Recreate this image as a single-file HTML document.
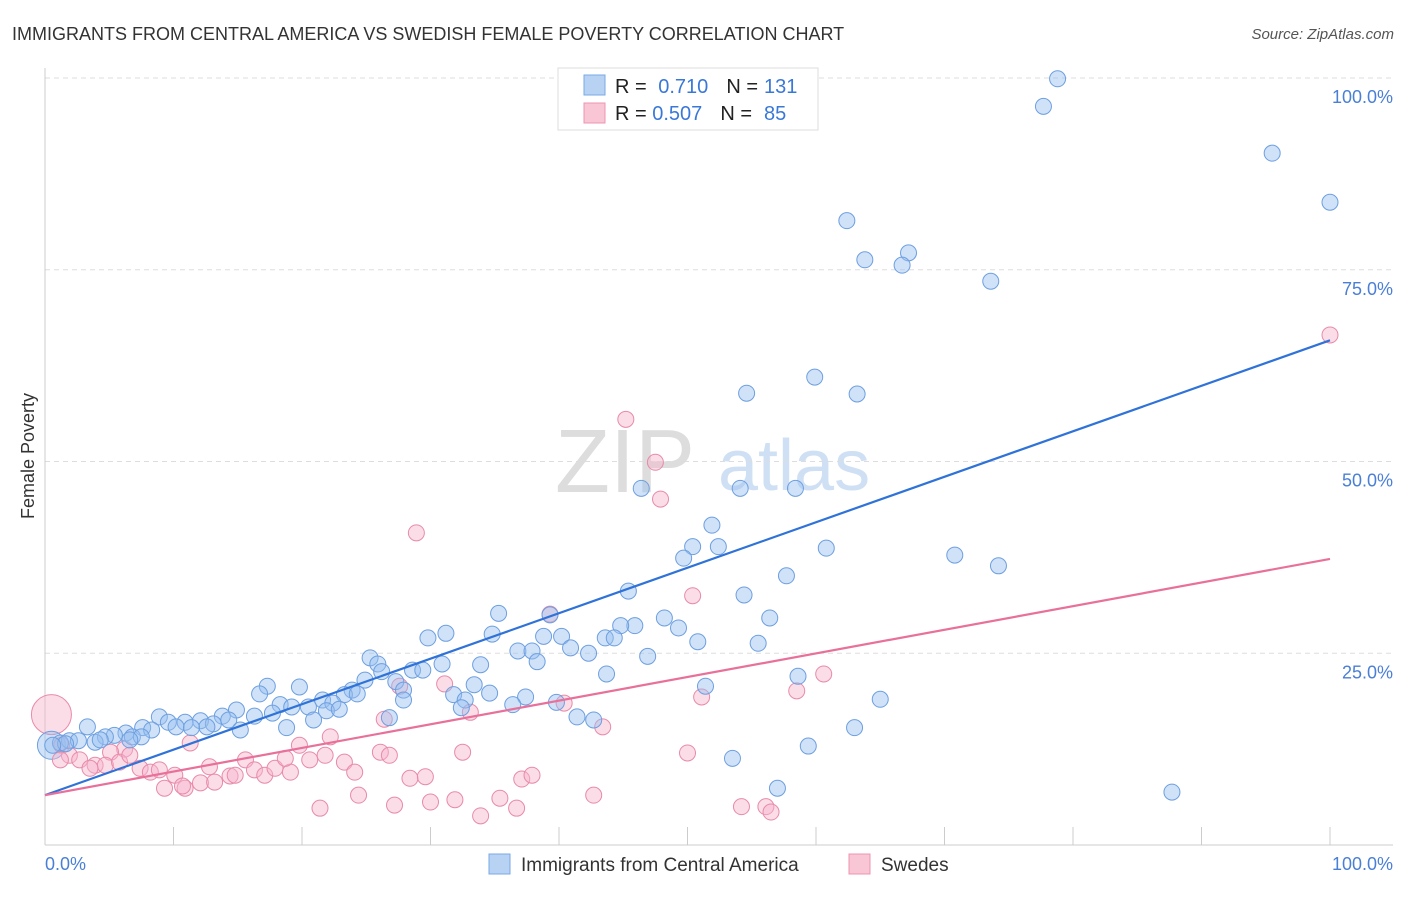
<!DOCTYPE html>
<html><head><meta charset="utf-8"><style>
body{margin:0;background:#fff;font-family:"Liberation Sans",sans-serif;}
svg text{font-family:"Liberation Sans",sans-serif;}
</style></head><body>
<svg id="c" width="1406" height="892" xmlns="http://www.w3.org/2000/svg">
<text x="12" y="40" font-size="18" fill="#333">IMMIGRANTS FROM CENTRAL AMERICA VS SWEDISH FEMALE POVERTY CORRELATION CHART</text>
<text x="1394" y="39" font-size="15" fill="#555" font-style="italic" text-anchor="end">Source: ZipAtlas.com</text>
<g>
<text x="555" y="492" font-size="90" fill="#ddd" font-family="Liberation Serif">ZIP</text>
<text x="718" y="490" font-size="72" fill="#cfe0f4">atlas</text>
</g>
<g id="grid"></g><g id="pts"></g><g id="lines"></g>
<text transform="translate(34,456) rotate(-90)" font-size="18" fill="#333" text-anchor="middle">Female Poverty</text>
<text x="45" y="870" font-size="18" fill="#4a7fd6">0.0%</text>
<text x="1393" y="870" font-size="18" fill="#4a7fd6" text-anchor="end">100.0%</text>
<g>
<rect x="558" y="68" width="260" height="62" fill="#fff" stroke="#ddd"/>
<rect x="584" y="75" width="21" height="20" fill="#b8d2f4" stroke="#7aa8e4"/>
<text x="615" y="93" font-size="20" fill="#222">R = <tspan fill="#3a78d8" dx="6">0.710</tspan><tspan dx="18" fill="#222">N =</tspan><tspan dx="6" fill="#3a78d8">131</tspan></text>
<rect x="584" y="103" width="21" height="20" fill="#f9c6d6" stroke="#ec94b0"/>
<text x="615" y="120" font-size="20" fill="#222">R = <tspan fill="#3a78d8">0.507</tspan><tspan dx="18" fill="#222">N =</tspan><tspan dx="12" fill="#3a78d8">85</tspan></text>
</g>
<g>
<rect x="489" y="854" width="21" height="20" fill="#b8d2f4" stroke="#7aa8e4"/>
<text x="521" y="871" font-size="19" fill="#333">Immigrants from Central America</text>
<rect x="849" y="854" width="21" height="20" fill="#f9c6d6" stroke="#ec94b0"/>
<text x="881" y="871" font-size="19" fill="#333">Swedes</text>
</g>
</svg>
<script>
const yTicks=[25,50,75,100];
const yTickLabels=["25.0%","50.0%","75.0%","100.0%"];
const xTicks=[0,10,20,30,40,50,60,70,80,90,100];
const blueX=[78.8,77.7,95.5,100,62.4,63.8,67.2,66.7,73.6,59.9,54.6,63.2,46.4,54.1,58.4,51.9,50.4,52.4,60.8,49.7,70.8,74.2,57.7,45.4,54.4,35.3,39.3,48.2,56.4,45.9,44.8,49.3,31.2,29.8,34.8,38.8,40.2,50.8,43.6,44.3,40.9,55.5,36.8,37.9,42.3,46.9,38.3,25.3,25.9,26.2,28.6,29.4,30.9,33.9,43.7,24.9,27.3,27.9,23.9,23.3,24.3,21.6,22.4,17.3,19.8,16.7,33.4,34.6,31.8,32.7,37.4,39.8,27.9,36.4,32.4,18.3,19.2,20.5,21.9,22.9,14.9,17.7,13.8,16.3,20.9,26.8,41.4,42.7,58.6,51.4,65.0,8.9,12.1,13.1,14.3,9.6,10.9,10.2,12.6,15.2,11.4,7.6,8.3,3.3,6.3,5.4,4.7,6.8,7.5,3.9,1.9,2.6,1.2,1.6,0.6,18.8,63.0,59.4,53.5,57.0,87.7,6.6,4.3];
const blueY=[99.9,96.3,90.2,83.8,81.4,76.3,77.2,75.6,73.5,61.0,58.9,58.8,46.5,46.5,46.5,41.7,38.9,38.9,38.7,37.4,37.8,36.4,35.1,33.1,32.6,30.2,30.0,29.6,29.6,28.6,28.6,28.3,27.6,27.0,27.5,27.2,27.2,26.5,27.0,27.0,25.7,26.3,25.3,25.3,25.0,24.6,23.9,24.4,23.6,22.6,22.8,22.8,23.6,23.5,22.3,21.5,21.3,20.2,20.2,19.6,19.7,18.9,18.5,20.7,20.6,19.7,20.9,19.8,19.6,18.9,19.3,18.6,18.9,18.3,17.9,18.3,18.0,18.0,17.5,17.7,17.6,17.2,16.8,16.8,16.3,16.6,16.7,16.3,22.0,20.7,19.0,16.7,16.2,15.8,16.3,16.0,16.0,15.4,15.4,15.0,15.3,15.3,15.0,15.4,14.6,14.3,14.1,14.1,14.1,13.4,13.6,13.6,13.3,13.2,13.0,15.3,15.3,12.9,11.3,7.4,6.9,13.7,13.7];
const pinkX=[100,45.2,47.5,47.9,28.9,39.3,50.4,51.1,58.5,60.6,31.1,27.6,33.1,40.4,43.4,26.4,22.2,19.8,11.3,6.2,5.1,1.3,1.9,2.7,3.9,4.7,5.8,7.4,8.2,8.9,10.1,9.3,10.9,12.1,13.2,14.4,15.6,16.3,17.1,17.9,19.1,20.6,21.8,23.3,24.1,26.1,26.8,28.4,29.6,24.4,27.2,30.0,31.9,33.9,35.4,36.7,37.1,37.9,42.7,32.5,50.0,54.2,56.1,56.5,21.4,12.8,14.8,18.7,1.2,3.5,6.6,10.7];
const pinkY=[66.5,55.5,49.9,45.1,40.7,30.1,32.5,19.3,20.1,22.3,21.0,20.7,17.3,18.5,15.4,16.4,14.1,13.0,13.3,12.5,12.1,13.0,11.7,11.1,10.4,10.4,10.8,10.0,9.5,9.8,9.1,7.4,7.4,8.1,8.2,9.0,11.1,9.8,9.1,10.0,9.5,11.1,11.7,10.8,9.5,12.1,11.7,8.7,8.9,6.5,5.2,5.6,5.9,3.8,6.1,4.8,8.6,9.1,6.5,12.1,12.0,5.0,5.0,4.3,4.8,10.2,9.1,11.3,11.1,10.0,11.7,7.7];
const bigPoints=[{s:"pink",x:0.5,y:17,r:20},{s:"blue",x:0.5,y:13,r:14}];
const blueTrend=[6.5,65.8];
const pinkTrend=[6.5,37.3];
const NS="http://www.w3.org/2000/svg";
const X=v=>45+v*12.85, Y=v=>845-v*7.67;
function mk(t,a,p){const e=document.createElementNS(NS,t);for(const k in a)e.setAttribute(k,a[k]);p.appendChild(e);return e;}
const g=document.getElementById('grid');
yTicks.forEach((t,i)=>{
 const l=mk('line',{x1:45,x2:1393,y1:Y(t),y2:Y(t),stroke:'#ddd','stroke-dasharray':'5,4'},g);
 
 
 const tx=mk('text',{x:1393,y:Y(t)+25,'font-size':18,fill:'#4a7fd6','text-anchor':'end'},g);
 tx.textContent=yTickLabels[i];
 
 
});
const ax=mk('line',{x1:45,x2:1393,y1:845,y2:845,stroke:'#ccc'},g);


const ay=mk('line',{x1:45,x2:45,y1:68,y2:845,stroke:'#ccc'},g);


xTicks.forEach(t=>{
 const l=mk('line',{x1:X(t),x2:X(t),y1:827,y2:845,stroke:'#ccc'},g);
 
 
});
const P=document.getElementById('pts');
const sty={blue:{fill:'rgba(150,190,240,0.45)',stroke:'#6d9fe0'},pink:{fill:'rgba(246,180,203,0.45)',stroke:'#e88aa9'}};
function dot(s,x,y,r){
 const c=mk('circle',{cx:X(x),cy:Y(y),r:r,fill:sty[s].fill,stroke:sty[s].stroke,'stroke-width':1},P);
 
 
}
bigPoints.forEach(b=>dot(b.s,b.x,b.y,b.r));
pinkX.forEach((x,i)=>dot('pink',x,pinkY[i],8));
blueX.forEach((x,i)=>dot('blue',x,blueY[i],8));
const L=document.getElementById('lines');
const bl=mk('line',{x1:X(0),y1:Y(blueTrend[0]),x2:X(100),y2:Y(blueTrend[1]),stroke:'#2f72d8','stroke-width':2.2},L);


const pl=mk('line',{x1:X(0),y1:Y(pinkTrend[0]),x2:X(100),y2:Y(pinkTrend[1]),stroke:'#e8709a','stroke-width':2.2},L);


</script>
</body></html>
